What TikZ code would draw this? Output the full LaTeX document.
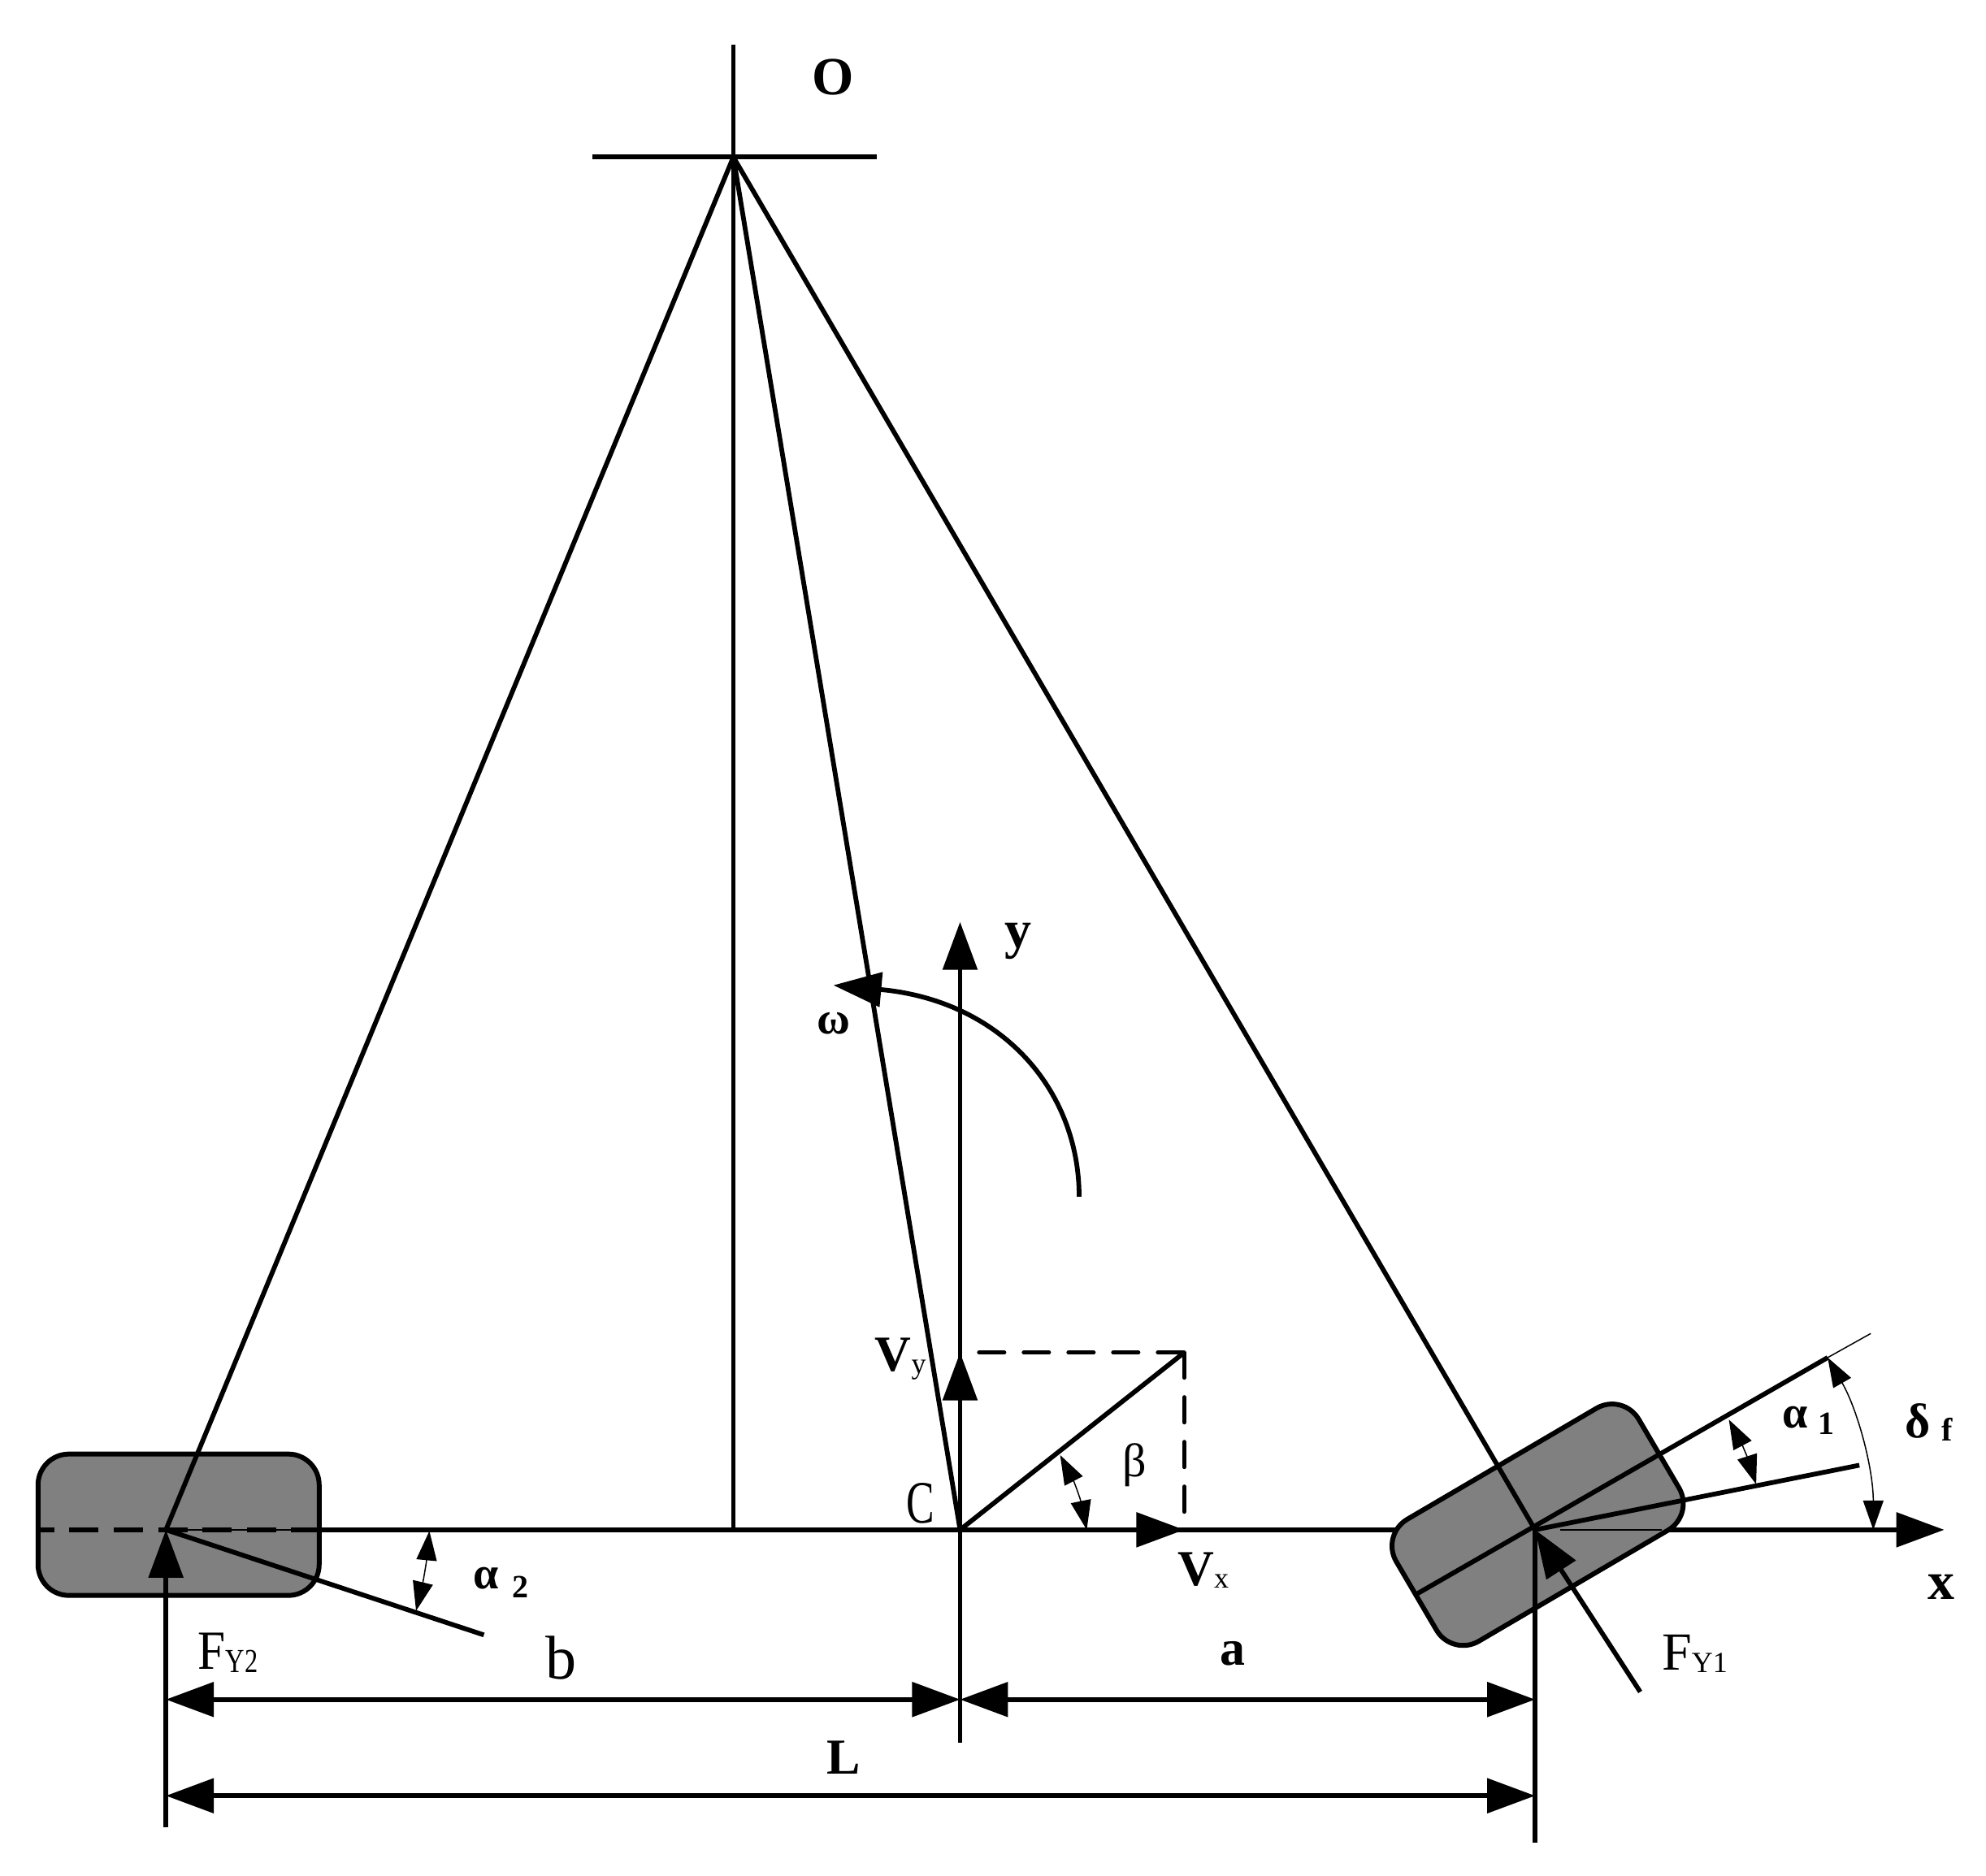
\documentclass[tikz,border=0pt]{standalone}
\usepackage{fontspec}
\setmainfont{Liberation Serif}
\usetikzlibrary{arrows.meta}
\newcommand{\fsz}[1]{\fontsize{#1}{#1}\selectfont}
\newcommand{\subt}[1]{\raisebox{-3pt}{\fsz{36}\mdseries #1}}
\tikzset{
  x=1.5587pt,y=-1.5587pt,
  thick line/.style={line width=5.8pt},
  thin line/.style={line width=1.5pt},
  bigarrow/.style={thick line,-{Triangle[length=59pt,width=42pt]}},
  bigboth/.style={thick line,{Triangle[length=59pt,width=42pt]}-{Triangle[length=59pt,width=42pt]}},
  smallboth/.style={line width=1.5pt,{Triangle[length=36pt,width=25pt]}-{Triangle[length=36pt,width=25pt]}},
  wheel/.style={draw=black,fill=wheelgray,line width=6pt,rounded corners=38pt,minimum width=346pt,minimum height=174pt,inner sep=0pt},
  lab/.style={inner sep=0pt,font=\fsz{62}\bfseries},
  reg/.style={inner sep=0pt,font=\fsz{66}},
  dashy/.style={line width=5pt,line cap=round,dash pattern=on 31pt off 24pt},
}
\definecolor{wheelgray}{RGB}{128,128,128}
\begin{document}
\begin{tikzpicture}
\useasboundingbox (0,0) rectangle (1568,1481);
% key points
\coordinate (O) at (579,124);
\coordinate (Otop) at (579,35);
\coordinate (Oleft) at (468,124);
\coordinate (Oright) at (692,124);
\coordinate (R) at (131,1208);
\coordinate (Rbot) at (131,1443);
\coordinate (F) at (1212,1208);
\coordinate (Fbot) at (1212,1455);
\coordinate (C) at (758,1208);
\coordinate (Cbot) at (758,1376);
\coordinate (ytip) at (758,728);
\coordinate (Mid) at (579,1208);
\coordinate (xtip) at (1535,1208);
\coordinate (Vy) at (758,1068);
\coordinate (Vx) at (935,1208);
\coordinate (VV) at (935,1068);
\coordinate (dashA) at (773,1068);
\coordinate (dashB) at (935,1198);
\coordinate (Rleft) at (30,1208);
\coordinate (Rright) at (254,1208);
\coordinate (FthinA) at (1232,1208);
\coordinate (FthinB) at (1312,1208);
\coordinate (a2end) at (382,1291);
\coordinate (a2top) at (339,1209);
\coordinate (a2bot) at (328.5,1272);
\coordinate (wl) at (1118,1259);
\coordinate (we) at (1443,1072);
\coordinate (wx) at (1477,1053);
\coordinate (a1end) at (1468,1157);
\coordinate (a1top) at (1365,1121);
\coordinate (a1bot) at (1386.5,1172);
\coordinate (dfbot) at (1479,1208);
\coordinate (Ftail) at (1295,1336);
\coordinate (btop) at (837,1149);
\coordinate (bbot) at (858,1208);
\coordinate (wstart) at (852,945);
\coordinate (wtip) at (658,778);
\coordinate (bL) at (131,1342);
\coordinate (bC) at (758,1342);
\coordinate (bF) at (1212,1342);
\coordinate (lL) at (131,1418);
\coordinate (lF) at (1212,1418);
% ground axis
\draw[bigarrow] (R) -- (xtip);
% wheels
\node[wheel] (rw) at (141,1204) {};
\node[wheel,rotate=30.4] (fw) at (1214,1204) {};
% inside the wheels
\draw[line width=6pt,dash pattern=on 36pt off 18.6pt,dash phase=16pt] (Rleft) -- (Rright);
\draw[thin line] (R) -- (Rright);
\draw[thin line] (FthinA) -- (FthinB);
% rays from O
\draw[thick line] (Otop) -- (Mid);
\draw[thick line] (Oleft) -- (Oright);
\draw[thick line] (O) -- (R);
\draw[thick line] (O) -- (C);
\draw[thick line] (O) -- (F);
% rear
\draw[bigarrow] (Rbot) -- (R);
\draw[thick line] (R) -- (a2end);
\draw[smallboth] (a2top) to[bend left=4] (a2bot);
% centre
\draw[bigarrow] (Cbot) -- (ytip);
\draw[bigarrow] (C) -- (Vy);
\draw[bigarrow] (C) -- (Vx);
\draw[thick line] (C) -- (VV);
\draw[dashy] (dashA) -- (VV);
\draw[dashy] (VV) -- (dashB);
\draw[smallboth] (btop) to[bend left=8] (bbot);
\draw[bigarrow] (wstart) .. controls (852,860) and (790,790) .. (wtip);
% front
\draw[thick line] (Fbot) -- (F);
\draw[thick line] (wl) -- (we);
\draw[thin line] (we) -- (wx);
\draw[thick line] (F) -- (a1end);
\draw[bigarrow] (Ftail) -- (F);
\draw[smallboth] (a1top) to[bend left=5] (a1bot);
\draw[smallboth] (we) .. controls (1467,1114) and (1479,1160) .. (dfbot);
% dimensions
\draw[bigboth] (bL) -- (bC);
\draw[bigboth] (bC) -- (bF);
\draw[bigboth] (lL) -- (lF);
% labels
\node[lab,font=\fsz{66}\bfseries] (tO) at (658,61) {O};
\node[lab,font=\fsz{66}\bfseries] (ty) at (804,743) {y};
\node[lab,font=\fsz{56}\bfseries] (tw) at (658,808) {ω};
\node[lab] (tVy) at (711,1073) {V\subt{y}};
\node[reg] (tC) at (727,1187) {\scalebox{0.7}[1]{\fsz{74}C}};
\node[reg,font=\fsz{58}] (tb) at (896,1157) {β};
\node[lab] (tVx) at (950,1240) {V\subt{x}};
\node[lab,font=\fsz{66}\bfseries] (tx) at (1533,1253) {x};
\node[lab,font=\fsz{56}\bfseries] (ta1) at (1417,1119) {α};
\node[lab,font=\fsz{40}\bfseries] (ta1s) at (1442,1124) {1};
\node[lab,font=\fsz{60}\bfseries] (tdf) at (1514,1122) {δ};
\node[lab,font=\fsz{40}\bfseries] (tdfs) at (1537,1129) {f};
\node[reg] (tF1) at (1338,1306) {F\subt{Y1}};
\node[reg,font=\fsz{68}] (tF2) at (180,1305) {\scalebox{0.9}[1]{F}\scalebox{0.9}[1.15]{\subt{Y2}}};
\node[lab,font=\fsz{56}\bfseries] (ta2) at (384,1246) {α};
\node[lab,font=\fsz{40}\bfseries] (ta2s) at (411,1253) {2};
\node[reg,font=\fsz{76}] (tbb) at (443,1309) {b};
\node[lab] (ta) at (973,1306) {a};
\node[lab] (tL) at (666,1388) {L};
\end{tikzpicture}
\end{document}
